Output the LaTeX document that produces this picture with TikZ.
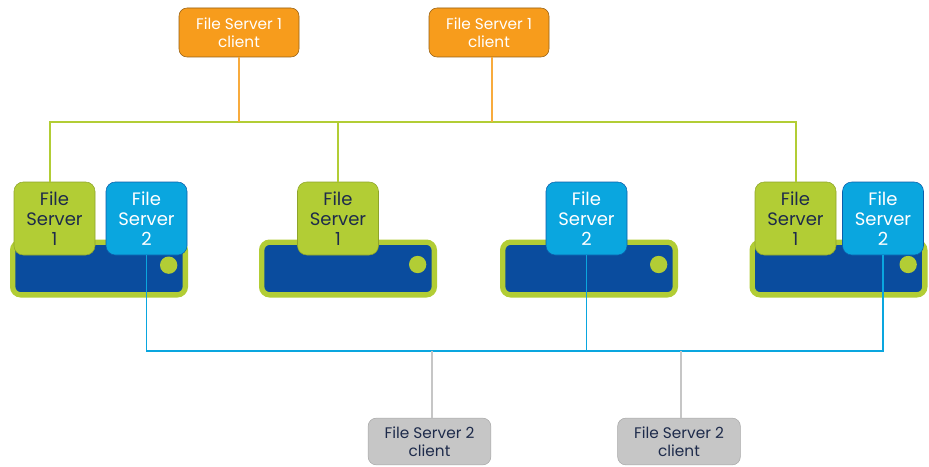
\documentclass[tikz,border=0pt]{standalone}
\usepackage{fontspec}
\setmainfont{Poppins}
\usepackage{tikz}
\usetikzlibrary{calc}
\usetikzlibrary{positioning}

\definecolor{vgreen}{HTML}{B2CD35}
\definecolor{vnavy}{HTML}{0A4C9E}
\definecolor{vblue}{HTML}{0AA6DF}
\definecolor{vorange}{HTML}{F79C1C}
\definecolor{vgrey}{HTML}{C6C6C6}
\definecolor{vtext}{HTML}{1E2B4B}

\begin{document}
\begin{tikzpicture}[x=0.75pt,y=-0.75pt,
  server node/.style={rectangle,rounded corners=6pt,draw=vgreen,line width=4pt,fill=vnavy,minimum width=129.5pt,minimum height=39.5pt},
  led node/.style={circle,fill=vgreen,minimum size=13pt,inner sep=0pt},
  fs1 node/.style={rectangle,rounded corners=7pt,draw=vgreen!80!black,fill=vgreen,align=center,text=vtext,minimum width=60.75pt,minimum height=54.75pt,inner sep=0pt,font=\fontsize{13.5}{15}\selectfont},
  fs2 node/.style={fs1 node,draw=vnavy!80!vblue,fill=vblue,text=white},
  client node/.style={rectangle,rounded corners=6pt,align=center,inner sep=0pt,font=\fontsize{11.5}{13.5}\selectfont},
  fs1 client/.style={client node,draw=vorange!60!black,fill=vorange,text=white,minimum width=90pt,minimum height=36.75pt},
  fs2 client/.style={client node,draw=vgrey!85!black,fill=vgrey,text=vtext,minimum width=92pt,minimum height=35pt},
  green wire/.style={draw=vgreen,line width=1.1pt},
  blue wire/.style={draw=vblue,line width=1.1pt},
  orange wire/.style={draw=vorange!85!white,line width=1.5pt},
  grey wire/.style={draw=vgrey,line width=1.5pt}]

    \useasboundingbox (0,0) rectangle (929,467);

    % servers
    \node[server node] (server-a) at (99,268.5) {};
    \node[server node] (server-b) at (348,268.5) {};
    \node[server node] (server-c) at (589,268.5) {};
    \node[server node] (server-d) at (838.5,268.5) {};

    \node[led node] (led-a) at ([xshift=-14.5pt,yshift=2.5pt]server-a.east) {};
    \node[led node] (led-b) at ([xshift=-14.5pt,yshift=3pt]server-b.east) {};
    \node[led node] (led-c) at ([xshift=-14.5pt,yshift=3pt]server-c.east) {};
    \node[led node] (led-d) at ([xshift=-14.5pt,yshift=3pt]server-d.east) {};

    % file servers
    \node[fs1 node] (fs1-a) at (54.5,218.5) {File\\Server\\1};
    \node[fs2 node] (fs2-a) at (146.5,218.5) {File\\Server\\2};
    \node[fs1 node] (fs1-b) at (338,218.5) {File\\Server\\1};
    \node[fs2 node] (fs2-c) at (586.5,218.5) {File\\Server\\2};
    \node[fs1 node] (fs1-d) at (795.5,218.5) {File\\Server\\1};
    \node[fs2 node] (fs2-d) at (883,218.5) {File\\Server\\2};

    % clients
    \node[fs1 client] (client1-a) at (239,32.5) {File Server 1\\client};
    \node[fs1 client] (client1-b) at (489,32.5) {File Server 1\\client};
    \node[fs2 client] (client2-a) at (429.5,441.5) {File Server 2\\client};
    \node[fs2 client] (client2-b) at (679,441.5) {File Server 2\\client};

    % buses
    \coordinate (green-left) at (50,122);
    \coordinate (green-right) at (796,122);
    \coordinate (blue-left) at (146.5,351);
    \coordinate (blue-right) at (883,351);

    \path[green wire]
    (fs1-a.north -| green-left)
    -- (green-left)
    -- (green-right)
    -- (fs1-d.north -| green-right);
    \path[green wire] (fs1-b.north) -- (fs1-b.north |- green-left);

    \path[orange wire] (client1-a.south) -- (client1-a.south |- green-left);
    \path[orange wire] ([xshift=2.25pt]client1-b.south) -- ([xshift=2.25pt]client1-b.south |- green-left);

    \path[blue wire]
    (fs2-a.south)
    -- (blue-left)
    -- (blue-right)
    -- (fs2-d.south);
    \path[blue wire] (fs2-c.south) -- (fs2-c.south |- blue-left);

    \path[grey wire] ([xshift=1.5pt]client2-a.north) -- ([xshift=1.5pt]client2-a.north |- blue-left);
    \path[grey wire] ([xshift=1.5pt]client2-b.north) -- ([xshift=1.5pt]client2-b.north |- blue-left);

\end{tikzpicture}
\end{document}
